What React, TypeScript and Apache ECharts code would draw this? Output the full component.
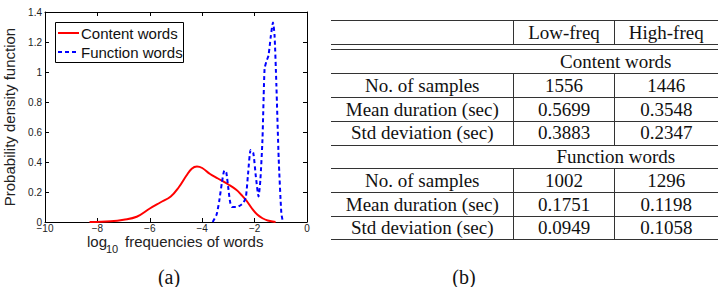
import React, { useEffect, useRef } from "react";
import * as echarts from "echarts";

// ---- Chart (a) data: kernel density estimates ----
const contentX = [-8.3, -7.5, -7.0, -6.5, -6.0, -5.6, -5.2, -4.9, -4.6, -4.4, -4.2, -4.0, -3.7, -3.4, -3.0, -2.7, -2.5, -2.3, -2.1, -1.9, -1.7, -1.5, -1.2];
const contentY = [0, 0.005, 0.015, 0.035, 0.09, 0.13, 0.17, 0.23, 0.31, 0.355, 0.37, 0.36, 0.32, 0.29, 0.25, 0.215, 0.18, 0.14, 0.09, 0.05, 0.025, 0.01, 0];
const functionX = [-3.6, -3.45, -3.35, -3.25, -3.15, -3.08, -3.0, -2.93, -2.85, -2.7, -2.55, -2.42, -2.33, -2.25, -2.15, -2.05, -1.95, -1.85, -1.78, -1.7, -1.62, -1.55, -1.47, -1.38, -1.3, -1.24, -1.17, -1.08, -0.98, -0.92];
const functionY = [0, 0.05, 0.14, 0.26, 0.345, 0.33, 0.22, 0.13, 0.1, 0.1, 0.11, 0.13, 0.17, 0.32, 0.48, 0.46, 0.3, 0.17, 0.28, 0.55, 1.02, 1.07, 1.11, 1.24, 1.33, 1.25, 0.92, 0.42, 0.06, 0];
const seriesNames = ["Content words", "Function words"];

// ---- Table (b) data ----
const columnHeaders = ["Low-freq", "High-freq"];
const groupNames = ["Content words", "Function words"];
const rowLabels = ["No. of samples", "Mean duration (sec)", "Std deviation (sec)"];
const contentLow = ["1556", "0.5699", "0.3883"];
const contentHigh = ["1446", "0.3548", "0.2347"];
const functionLow = ["1002", "0.1751", "0.0949"];
const functionHigh = ["1296", "0.1198", "0.1058"];

const SANS = "'Liberation Sans', Arial, Helvetica, sans-serif";
const SERIF = "'Liberation Serif', 'Times New Roman', Times, serif";

function txt(text: string, x: number, y: number, size: number, family: string, align = "center", color = "#111", extra: any = {}) {
  return {
    type: "text",
    x,
    y,
    silent: true,
    style: {
      text,
      font: `${size}px ${family}`,
      lineHeight: size,
      fill: color,
      textAlign: align,
      textVerticalAlign: "middle",
    },
    ...extra,
  };
}

function hline(x1: number, x2: number, y: number, color = "#333") {
  return { type: "line", silent: true, shape: { x1, y1: y, x2, y2: y }, style: { stroke: color, lineWidth: 1 } };
}
function vline(x: number, y1: number, y2: number, color = "#333") {
  return { type: "line", silent: true, shape: { x1: x, y1, x2: x, y2 }, style: { stroke: color, lineWidth: 1 } };
}

function buildTable(): any[] {
  const L = 331, V1 = 513.5, V2 = 614.5, R = 718;
  const c0 = (L + V1) / 2, c1 = (V1 + V2) / 2, c2 = (V2 + R) / 2, cg = (V1 + R) / 2;
  const els: any[] = [];
  const lines = [20.5, 44.5, 49.5, 73.5, 97.5, 121.5, 145.5, 168.5, 192.5, 216.5, 239.5];
  lines.forEach((y) => els.push(hline(L, R, y)));
  els.push(vline(V1, 20.5, 44.5), vline(V2, 20.5, 44.5));
  els.push(vline(V1, 73.5, 145.5), vline(V2, 73.5, 145.5));
  els.push(vline(V1, 168.5, 239.5), vline(V2, 168.5, 239.5));
  const fs = 19;
  els.push(txt(columnHeaders[0], c1, 32.5, fs, SERIF));
  els.push(txt(columnHeaders[1], c2, 32.5, fs, SERIF));
  const groups = [
    { name: groupNames[0], low: contentLow, high: contentHigh, gy: 61, ry: [85, 109, 132.5] },
    { name: groupNames[1], low: functionLow, high: functionHigh, gy: 156.5, ry: [180, 204, 227.5] },
  ];
  groups.forEach((g) => {
    els.push(txt(g.name, cg, g.gy, fs, SERIF));
    rowLabels.forEach((lab, i) => {
      els.push(txt(lab, c0, g.ry[i], fs, SERIF));
      els.push(txt(g.low[i], c1, g.ry[i], fs, SERIF));
      els.push(txt(g.high[i], c2, g.ry[i], fs, SERIF));
    });
  });
  els.push(txt("(b)", 464, 276.5, 20, SERIF));
  return els;
}

function buildLegendAndTitles(): any[] {
  const els: any[] = [];
  els.push({
    type: "rect",
    silent: true,
    shape: { x: 55.5, y: 22.5, width: 128, height: 40 },
    style: { fill: "#fff", stroke: "#000", lineWidth: 1 },
    z: 10,
  });
  els.push({ type: "line", silent: true, z: 11, shape: { x1: 58, y1: 33, x2: 79, y2: 33 }, style: { stroke: "#ff0000", lineWidth: 2 } });
  els.push({ type: "line", silent: true, z: 11, shape: { x1: 58, y1: 52, x2: 79, y2: 52 }, style: { stroke: "#0000ff", lineWidth: 2, lineDash: [4, 3] } });
  els.push(txt(seriesNames[0], 81, 33, 15, SANS, "left", "#111", { z: 11 }));
  els.push(txt(seriesNames[1], 81, 52, 15, SANS, "left", "#111", { z: 11 }));
  // x axis title with subscript
  els.push(txt("log", 87, 241, 15, SANS, "left", "#222"));
  els.push(txt("10", 106, 248.5, 11, SANS, "left", "#222"));
  els.push(txt("frequencies of words", 125, 241, 15, SANS, "left", "#222"));
  els.push(txt("(a)", 169, 276.5, 20, SERIF));
  return els;
}

export default function App() {
  const ref = useRef<HTMLDivElement>(null);
  useEffect(() => {
    document.body.style.margin = "0";
    if (!ref.current) return;
    const chart = echarts.init(ref.current, undefined, { renderer: "svg" });
    const minus = (v: number) => (v < 0 ? "\u2212" + Math.abs(v) : String(v));
    const tickCommon = { show: true, inside: true, length: 4, lineStyle: { color: "#000", width: 1 } };
    const lineCommon = { show: true, onZero: false, lineStyle: { color: "#000", width: 1 } };
    chart.setOption({
      animation: false,
      backgroundColor: "#fff",
      grid: { left: 45, top: 12, width: 262, height: 210, containLabel: false },
      xAxis: [
        {
          type: "value",
          min: -10,
          max: 0,
          interval: 2,
          position: "bottom",
          axisLine: lineCommon,
          axisTick: tickCommon,
          splitLine: { show: false },
          axisLabel: { fontSize: 10, lineHeight: 10, color: "#222", fontFamily: SANS, margin: 1, formatter: minus },
        },
        {
          type: "value",
          min: -10,
          max: 0,
          interval: 2,
          position: "top",
          axisLine: lineCommon,
          axisTick: tickCommon,
          splitLine: { show: false },
          axisLabel: { show: false },
        },
      ],
      yAxis: [
        {
          type: "value",
          min: 0,
          max: 1.4,
          interval: 0.2,
          position: "left",
          axisLine: lineCommon,
          axisTick: tickCommon,
          splitLine: { show: false },
          axisLabel: { fontSize: 10, lineHeight: 10, color: "#222", fontFamily: SANS, margin: 3 },
          name: "Probability density function",
          nameLocation: "middle",
          nameGap: 28,
          nameTextStyle: { fontSize: 15, color: "#222", fontFamily: SANS },
        },
        {
          type: "value",
          min: 0,
          max: 1.4,
          interval: 0.2,
          position: "right",
          axisLine: lineCommon,
          axisTick: tickCommon,
          splitLine: { show: false },
          axisLabel: { show: false },
        },
      ],
      series: [
        {
          name: seriesNames[0],
          type: "line",
          xAxisIndex: 0,
          yAxisIndex: 0,
          data: contentX.map((x, i) => [x, contentY[i]]),
          showSymbol: false,
          smooth: 0.4,
          lineStyle: { color: "#ff0000", width: 2 },
          itemStyle: { color: "#ff0000" },
        },
        {
          name: seriesNames[1],
          type: "line",
          xAxisIndex: 0,
          yAxisIndex: 0,
          data: functionX.map((x, i) => [x, functionY[i]]),
          showSymbol: false,
          smooth: 0.2,
          lineStyle: { color: "#0000ff", width: 2, type: [4, 3] },
          itemStyle: { color: "#0000ff" },
        },
      ],
      graphic: [...buildLegendAndTitles(), ...buildTable()],
    });
    return () => chart.dispose();
  }, []);
  return <div ref={ref} style={{ width: 718, height: 287 }} />;
}
